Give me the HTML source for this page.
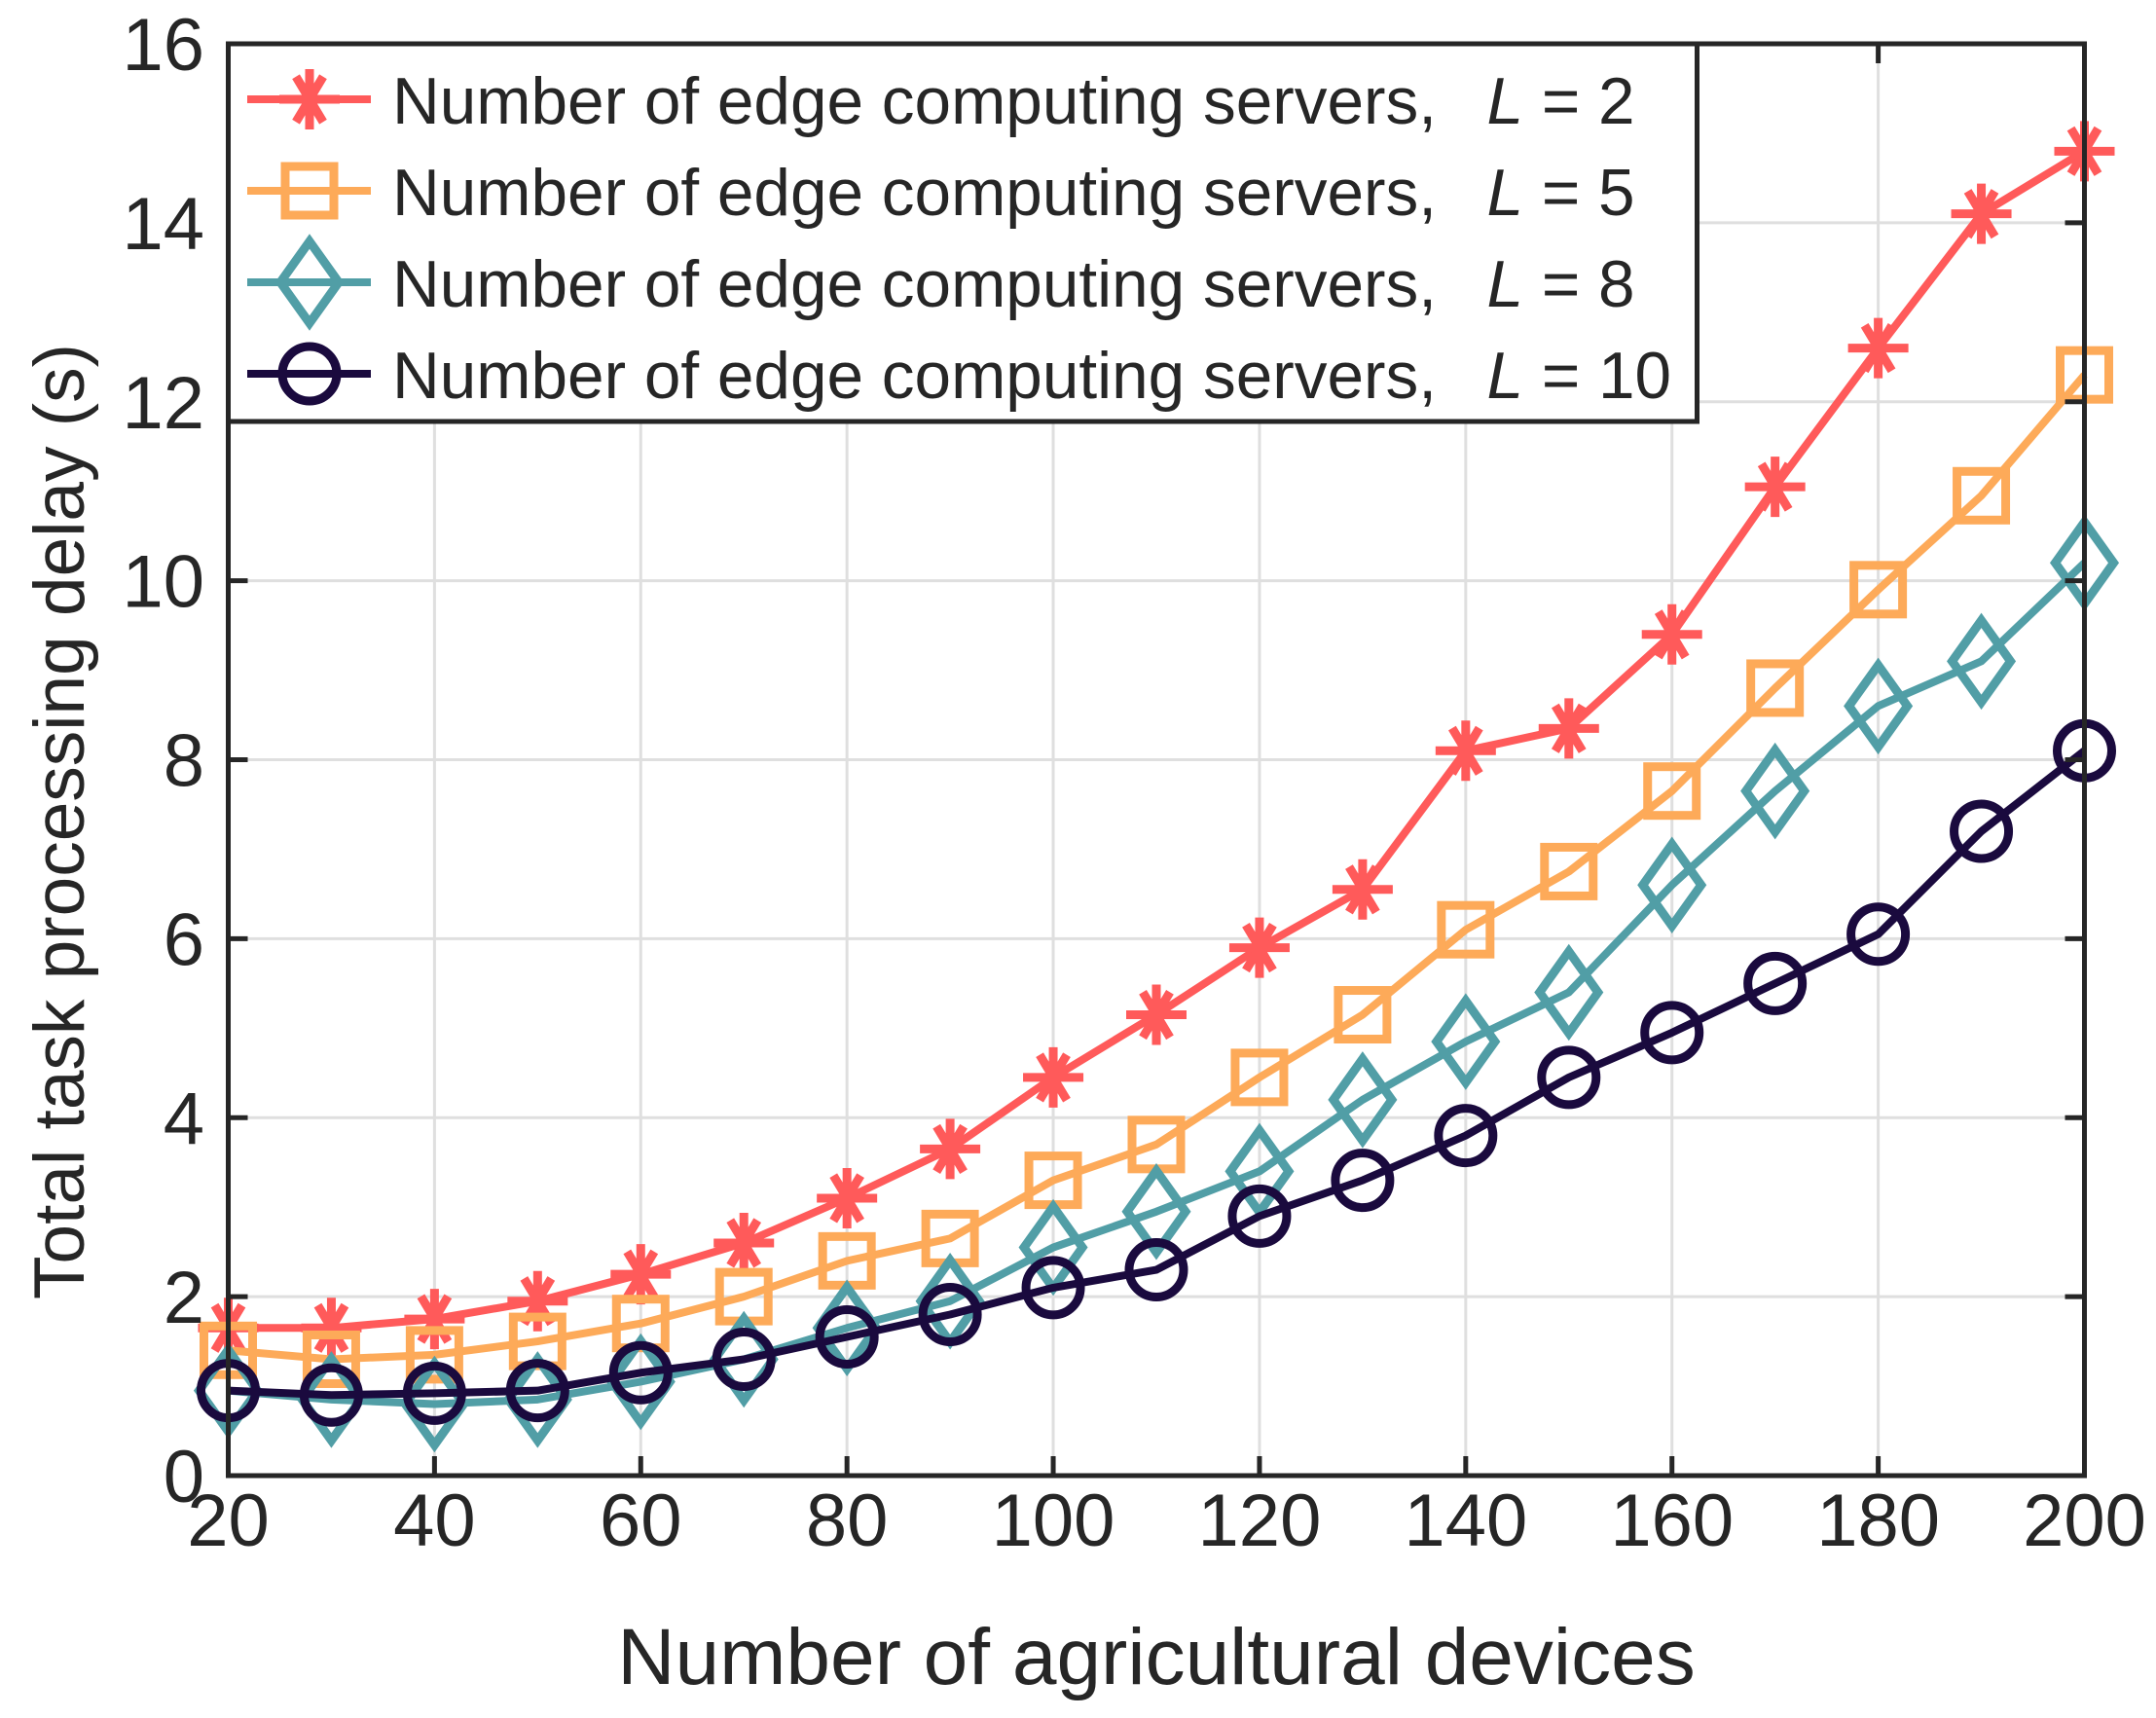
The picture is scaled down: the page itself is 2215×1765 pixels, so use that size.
<!DOCTYPE html>
<html><head><meta charset="utf-8"><style>
html,body{margin:0;padding:0;background:#fff}
svg{display:block}
text{font-family:"Liberation Sans",Arial,sans-serif;fill:#262626}
</style></head><body>
<svg id="chart" width="2215" height="1765" viewBox="0 0 2215 1765" xmlns="http://www.w3.org/2000/svg">
<g id="grid"></g>
<g id="series"></g>
<g id="axes"></g>
<g id="legend"></g>
<text x="1188" y="1730" font-size="82" text-anchor="middle">Number of agricultural devices</text>
<text transform="translate(86,844) rotate(-90)" font-size="73" text-anchor="middle">Total task processing delay (s)</text>
</svg>
<script>
const xValues=[20,30,40,50,60,70,80,90,100,110,120,130,140,150,160,170,180,190,200];
const seriesL2=[1.65,1.65,1.75,1.95,2.25,2.6,3.1,3.65,4.45,5.15,5.9,6.55,8.1,8.35,9.4,11.05,12.6,14.1,14.8];
const seriesL5=[1.4,1.3,1.35,1.5,1.7,2.0,2.4,2.65,3.3,3.7,4.45,5.15,6.1,6.75,7.65,8.8,9.9,10.95,12.3];
const seriesL8=[0.95,0.85,0.8,0.85,1.05,1.3,1.65,1.95,2.55,2.95,3.4,4.2,4.85,5.4,6.6,7.65,8.6,9.1,10.2];
const seriesL10=[0.95,0.9,0.92,0.95,1.15,1.3,1.55,1.8,2.1,2.3,2.9,3.3,3.8,4.45,4.95,5.5,6.05,7.2,8.1];
const xTicks=[20,40,60,80,100,120,140,160,180,200];
const yTicks=[0,2,4,6,8,10,12,14,16];
const legendLabels=["2","5","8","10"];

const NS="http://www.w3.org/2000/svg";
const L=234.5,R=2141.5,T=45,B=1516;
const xs=v=>L+(v-20)/(180)*(R-L);
const ys=v=>B-v/16*(B-T);
function mk(tag,attrs,parent){const e=document.createElementNS(NS,tag);for(const k in attrs)e.setAttribute(k,attrs[k]);parent.appendChild(e);return e;}
const grid=document.getElementById('grid'),axes=document.getElementById('axes'),ser=document.getElementById('series'),leg=document.getElementById('legend');
mk('rect',{x:L,y:T,width:R-L,height:B-T,fill:'#fff'},grid);
xTicks.forEach(t=>{
 const g=mk('line',{x1:xs(t),x2:xs(t),y1:T,y2:B,stroke:'#dfdfdf','stroke-width':3},grid);
 
 
 const tk=mk('path',{d:`M${xs(t)} ${B}v-20M${xs(t)} ${T}v20`,stroke:'#262626','stroke-width':5},axes);
 
 
 const lb=mk('text',{x:xs(t),y:1588,'font-size':76,'text-anchor':'middle'},axes);lb.textContent=t;
 
 
});
yTicks.forEach(t=>{
 const g=mk('line',{x1:L,x2:R,y1:ys(t),y2:ys(t),stroke:'#dfdfdf','stroke-width':3},grid);
 
 
 const tk=mk('path',{d:`M${L} ${ys(t)}h20M${R} ${ys(t)}h-20`,stroke:'#262626','stroke-width':5},axes);
 
 
 const lb=mk('text',{x:210,y:ys(t)+27,'font-size':76,'text-anchor':'end'},axes);lb.textContent=t;
 
 
});
const box=mk('rect',{x:L,y:T,width:R-L,height:B-T,fill:'none',stroke:'#262626','stroke-width':5},axes);



function marker(type,cx,cy,color,parent){
 const sw=9;
 if(type==='star'){
  const r=31,d=r*0.75;
  return mk('path',{d:`M${cx-r} ${cy}h${2*r}M${cx} ${cy-r}v${2*r}M${cx-d*0.6} ${cy-d}L${cx+d*0.6} ${cy+d}M${cx+d*0.6} ${cy-d}L${cx-d*0.6} ${cy+d}`,stroke:color,'stroke-width':sw,fill:'none'},parent);
 }
 if(type==='square')return mk('rect',{x:cx-25,y:cy-25,width:50,height:50,stroke:color,'stroke-width':sw,fill:'none'},parent);
 if(type==='diamond')return mk('path',{d:`M${cx} ${cy-42}L${cx+30} ${cy}L${cx} ${cy+42}L${cx-30} ${cy}Z`,stroke:color,'stroke-width':sw,fill:'none'},parent);
 return mk('circle',{cx:cx,cy:cy,r:28,stroke:color,'stroke-width':sw,fill:'none'},parent);
}
const defs=[[seriesL2,'#ff5a5a','star'],[seriesL5,'#fdaa59','square'],[seriesL8,'#519ea6','diamond'],[seriesL10,'#1a0a3e','circle']];
defs.forEach(([vals,color,m],i)=>{
 const g=mk('g',{},ser);
 
 
 const p=mk('polyline',{points:vals.map((v,j)=>xs(xValues[j])+','+ys(v)).join(' '),fill:'none',stroke:color,'stroke-width':8,'stroke-linejoin':'round'},g);
 
 
 vals.forEach((v,j)=>{
  const mm=marker(m,xs(xValues[j]),ys(v),color,g);
  
  
 });
});
const lb=mk('rect',{x:L,y:T,width:1509,height:388,fill:'#fff',stroke:'#262626','stroke-width':5},leg);


const ly=[102,196,290,384];
defs.forEach(([vals,color,m],i)=>{
 const g=mk('g',{},leg);
 
 
 mk('line',{x1:254,x2:381,y1:ly[i],y2:ly[i],stroke:color,'stroke-width':8},g);
 marker(m,318,ly[i],color,g);
 const t=mk('text',{x:403,y:ly[i]+25,'font-size':67.5},g);
 t.innerHTML='Number of edge computing servers,\u00a0\u00a0<tspan dx="14" font-style="italic">L</tspan> = '+legendLabels[i];
});
</script>
</body></html>
